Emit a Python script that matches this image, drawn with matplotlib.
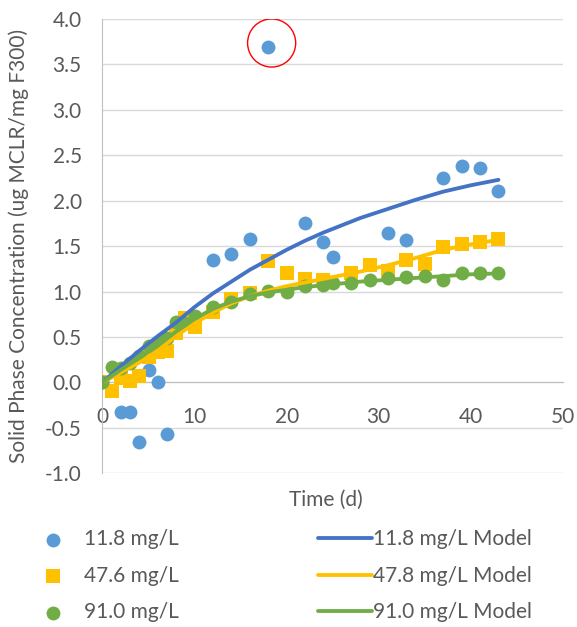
import numpy as np
import matplotlib.pyplot as plt

plt.rcParams['font.family'] = ['Lato', 'DejaVu Sans']

# measured points
t_low = [0, 2, 3, 4, 5, 6, 7, 12, 14, 16, 18, 22, 24, 25, 31, 33, 37, 39, 41, 43]
q_low = [0.0, -0.33, -0.33, -0.65, 0.14, 0.0, -0.57, 1.35, 1.41, 1.58, 3.69,
         1.76, 1.55, 1.38, 1.65, 1.57, 2.25, 2.38, 2.36, 2.11]

t_mid = [0, 1, 2, 3, 4, 5, 6, 7, 8, 9, 10, 12, 14, 16, 18, 20, 22, 24,
         27, 29, 31, 33, 35, 37, 39, 41, 43]
q_mid = [0.0, -0.09, 0.05, 0.02, 0.07, 0.28, 0.34, 0.35, 0.54, 0.71, 0.61,
         0.78, 0.92, 0.98, 1.34, 1.20, 1.14, 1.13, 1.21, 1.29, 1.23, 1.35,
         1.30, 1.49, 1.52, 1.55, 1.58]

t_high = [0, 1, 2, 3, 4, 5, 6, 7, 8, 9, 10, 12, 14, 16, 18, 20, 22, 24, 25,
          27, 29, 31, 33, 35, 37, 39, 41, 43]
q_high = [0.0, 0.17, 0.16, 0.21, 0.29, 0.40, 0.44, 0.49, 0.67, 0.65, 0.73,
          0.83, 0.89, 0.97, 1.01, 1.00, 1.06, 1.07, 1.09, 1.10, 1.13, 1.15,
          1.16, 1.17, 1.13, 1.20, 1.21, 1.21]

# model curves
t_model = [0, 2, 4, 6, 8, 10, 12, 14, 16, 18, 20, 22, 24, 26, 28, 31, 34, 37, 40, 43]
m_low = [0.0, 0.18, 0.35, 0.51, 0.66, 0.83, 0.98, 1.11, 1.24, 1.35, 1.46,
         1.56, 1.65, 1.73, 1.81, 1.91, 2.01, 2.10, 2.17, 2.23]
m_mid = [0.0, 0.11, 0.22, 0.35, 0.51, 0.65, 0.77, 0.87, 0.95, 1.01, 1.06,
         1.10, 1.14, 1.18, 1.22, 1.29, 1.37, 1.46, 1.52, 1.57]
m_high = [0.0, 0.14, 0.27, 0.41, 0.56, 0.70, 0.81, 0.89, 0.95, 0.99, 1.02,
          1.05, 1.07, 1.09, 1.11, 1.13, 1.15, 1.17, 1.19, 1.20]

labels_pts = ['11.8 mg/L', '47.6 mg/L', '91.0 mg/L']
labels_mod = ['11.8 mg/L Model', '47.8 mg/L Model', '91.0 mg/L Model']

outlier = (18.37, 3.736)

grey = '#595959'
fs = 15
fig = plt.figure(figsize=(5.77, 6.27), dpi=100)
ax = fig.add_axes([0.1776, 0.2451, 0.798, 0.7246])

p1 = ax.scatter(t_low, q_low, s=100, color='#5B9BD5', marker='o', zorder=3, linewidths=0)
p2 = ax.scatter(t_mid, q_mid, s=90, color='#FFC000', marker='s', zorder=3, linewidths=0)
p3 = ax.scatter(t_high, q_high, s=100, color='#70AD47', marker='o', zorder=3, linewidths=0)
l1, = ax.plot(t_model, m_low, color='#4472C4', lw=2.75, zorder=4, solid_capstyle='round')
l2, = ax.plot(t_model, m_mid, color='#FFC000', lw=2.75, zorder=4, solid_capstyle='round')
l3, = ax.plot(t_model, m_high, color='#70AD47', lw=2.75, zorder=4, solid_capstyle='round')

ax.scatter([outlier[0]], [outlier[1]], s=1200, facecolors='none', edgecolors='red',
           linewidths=1, zorder=5)

ax.set_xlim(0, 50)
ax.set_ylim(-1, 4)
ax.set_yticks(np.arange(-1, 4.01, 0.5))
ax.set_yticklabels(['%.1f' % v for v in np.arange(-1, 4.01, 0.5)])
ax.set_xticks([0, 10, 20, 30, 40, 50])
ax.grid(axis='y', color='#D9D9D9', lw=1)
ax.set_axisbelow(True)
for s in ['top', 'right']:
    ax.spines[s].set_visible(False)
ax.spines['bottom'].set_position(('data', 0))
ax.spines['bottom'].set_color('#BFBFBF')
ax.spines['left'].set_color('#BFBFBF')
ax.tick_params(length=0, labelsize=fs, colors=grey)
ax.tick_params(axis='y', pad=15)
ax.tick_params(axis='x', pad=18)

ax.set_xlabel('Time (d)', fontsize=fs, color=grey)
ax.xaxis.set_label_coords(0.485, -0.037)
ax.set_ylabel('Solid Phase Concentration (ug MCLR/mg F300)', fontsize=fs, color=grey)
ax.yaxis.set_label_coords(-0.16, 0.5)

leg1 = fig.legend([p1, p2, p3], labels_pts, loc='upper left',
                  bbox_to_anchor=(0.041, 0.186), frameon=False, fontsize=fs,
                  labelcolor=grey, labelspacing=0.8, handletextpad=1.0,
                  handlelength=1.0)
leg2 = fig.legend([l1, l2, l3], labels_mod, loc='upper left',
                  bbox_to_anchor=(0.518, 0.186), frameon=False, fontsize=fs,
                  labelcolor=grey, labelspacing=0.8, handletextpad=0.05,
                  handlelength=2.6)

fig.savefig('out.png', dpi=100)
